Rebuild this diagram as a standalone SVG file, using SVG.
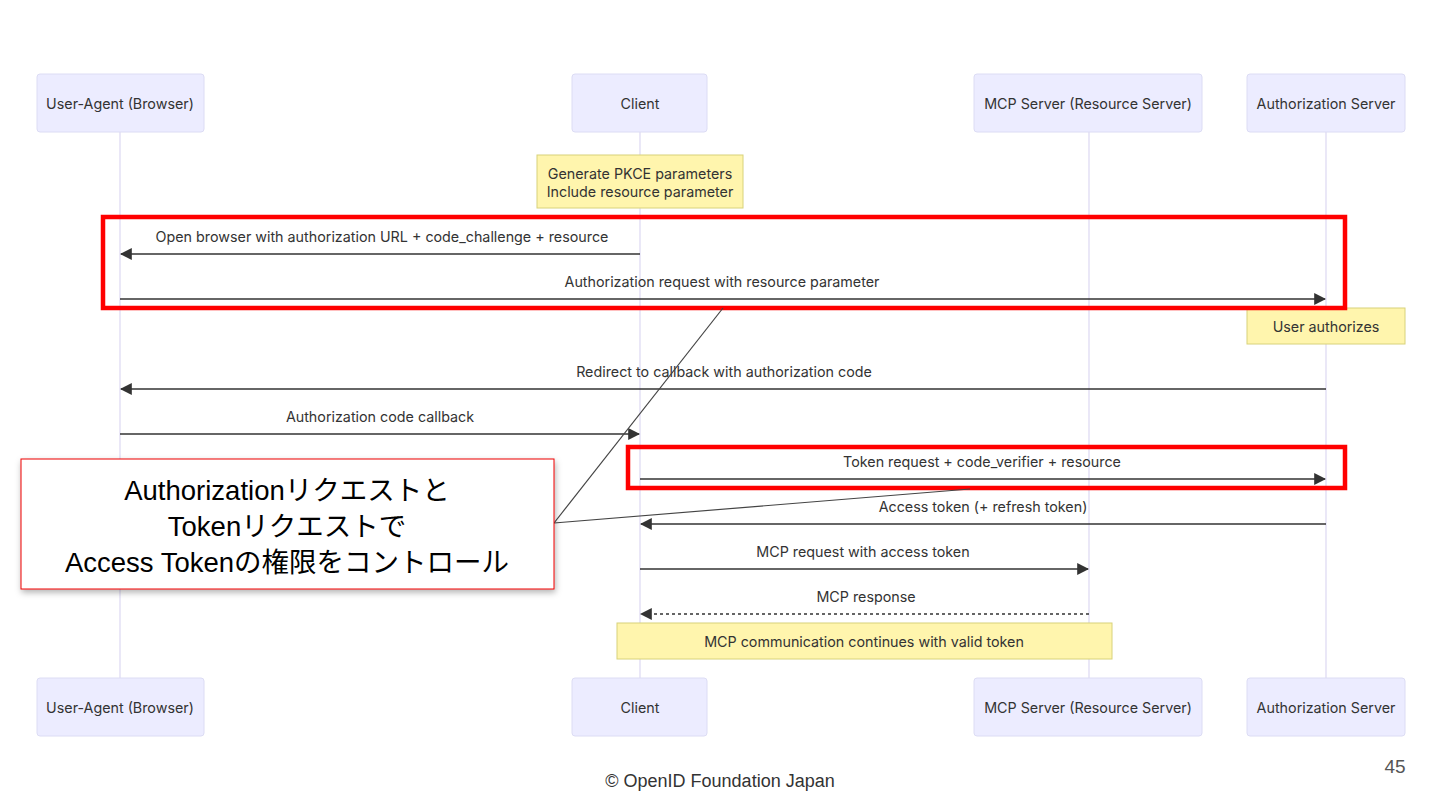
<svg xmlns="http://www.w3.org/2000/svg" width="1440" height="810" viewBox="0 0 1440 810">
<defs>
<marker id="ah" viewBox="0 0 10 10" refX="9" refY="5" markerWidth="12" markerHeight="12" markerUnits="userSpaceOnUse" orient="auto-start-reverse">
<path d="M0,0 L10,5 L0,10 z" fill="#333"/>
</marker>
<filter id="sh" x="-10%" y="-10%" width="120%" height="130%">
<feDropShadow dx="1" dy="3" stdDeviation="3" flood-color="#000" flood-opacity="0.3"/>
</filter>
<style>
.actor rect{fill:#ececff;stroke:#dcdcf4;stroke-width:1}
.actor text,.lbl{font-family:Inter,"Noto Sans",sans-serif;font-size:14.3px;fill:#333;text-anchor:middle;dominant-baseline:central}
.life{stroke:#dcd8f2;stroke-width:1.2}
.msg{stroke:#333;stroke-width:1.4;fill:none}
.dash{stroke-dasharray:3,3}
.note rect{fill:#fff5ad;stroke:#d8d27a;stroke-width:1}
.hl{fill:none;stroke:#f00;stroke-width:4.5}
.call{stroke:#444;stroke-width:1.2;fill:none}
.ctext{font-family:"Liberation Sans","Noto Sans CJK JP",sans-serif;font-size:27.5px;fill:#000;text-anchor:middle}
</style>
</defs>
<rect width="1440" height="810" fill="#fff"/>

<g id="lifelines">
<line class="life" x1="120" y1="132" x2="120" y2="678"/>
<line class="life" x1="640" y1="132" x2="640" y2="678"/>
<line class="life" x1="1089" y1="132" x2="1089" y2="678"/>
<line class="life" x1="1326" y1="132" x2="1326" y2="678"/>
</g>

<g id="actor-ua-top" class="actor"><rect x="37" y="74" width="167" height="58" rx="3"/><text x="120" y="103">User-Agent (Browser)</text></g>
<g id="actor-client-top" class="actor"><rect x="572" y="74" width="135" height="58" rx="3"/><text x="640" y="103">Client</text></g>
<g id="actor-mcp-top" class="actor"><rect x="974" y="74" width="228" height="58" rx="3"/><text x="1088" y="103">MCP Server (Resource Server)</text></g>
<g id="actor-as-top" class="actor"><rect x="1247" y="74" width="158" height="58" rx="3"/><text x="1326" y="103">Authorization Server</text></g>

<g id="actor-ua-bottom" class="actor"><rect x="37" y="678" width="167" height="58" rx="3"/><text x="120" y="707">User-Agent (Browser)</text></g>
<g id="actor-client-bottom" class="actor"><rect x="572" y="678" width="135" height="58" rx="3"/><text x="640" y="707">Client</text></g>
<g id="actor-mcp-bottom" class="actor"><rect x="974" y="678" width="228" height="58" rx="3"/><text x="1088" y="707">MCP Server (Resource Server)</text></g>
<g id="actor-as-bottom" class="actor"><rect x="1247" y="678" width="158" height="58" rx="3"/><text x="1326" y="707">Authorization Server</text></g>

<g id="note-pkce" class="note"><rect x="537" y="155" width="206" height="53"/><text class="lbl" x="640" y="173">Generate PKCE parameters</text><text class="lbl" x="640" y="191">Include resource parameter</text></g>
<g id="note-user" class="note"><rect x="1247" y="308" width="158" height="36"/><text class="lbl" x="1326" y="326">User authorizes</text></g>
<g id="note-mcp" class="note"><rect x="617" y="623" width="495" height="36"/><text class="lbl" x="864" y="641">MCP communication continues with valid token</text></g>

<g id="connectors">
<line class="msg" x1="640" y1="254" x2="121" y2="254" marker-end="url(#ah)"/>
<text class="lbl" x="382" y="236">Open browser with authorization URL + code_challenge + resource</text>
<line class="msg" x1="120" y1="299" x2="1325" y2="299" marker-end="url(#ah)"/>
<text class="lbl" x="722" y="281">Authorization request with resource parameter</text>
<line class="msg" x1="1326" y1="389" x2="121" y2="389" marker-end="url(#ah)"/>
<text class="lbl" x="724" y="371">Redirect to callback with authorization code</text>
<line class="msg" x1="120" y1="434" x2="639" y2="434" marker-end="url(#ah)"/>
<text class="lbl" x="380" y="416">Authorization code callback</text>
<line class="msg" x1="640" y1="479" x2="1325" y2="479" marker-end="url(#ah)"/>
<text class="lbl" x="982" y="461">Token request + code_verifier + resource</text>
<line class="msg" x1="1326" y1="524" x2="641" y2="524" marker-end="url(#ah)"/>
<text class="lbl" x="983" y="506">Access token (+ refresh token)</text>
<line class="msg" x1="640" y1="569" x2="1088" y2="569" marker-end="url(#ah)"/>
<text class="lbl" x="863" y="551">MCP request with access token</text>
<line class="msg dash" x1="1089" y1="614" x2="641" y2="614" marker-end="url(#ah)"/>
<text class="lbl" x="866" y="596">MCP response</text>
</g>

<g id="highlight-auth"><rect class="hl" x="103" y="217" width="1242" height="91"/></g>
<g id="highlight-token"><rect class="hl" x="628" y="447" width="717" height="41"/></g>

<g id="callout-lines">
<line class="call" x1="554" y1="523" x2="723" y2="308"/>
<line class="call" x1="554" y1="523" x2="970" y2="489"/>
</g>

<g id="callout">
<rect x="21" y="459" width="533" height="130" fill="#fff" stroke="#e00" stroke-width="1" filter="url(#sh)"/>
<text class="ctext" x="287" y="500">Authorizationリクエストと</text>
<text class="ctext" x="287" y="536">Tokenリクエストで</text>
<text class="ctext" x="287" y="572">Access Tokenの権限をコントロール</text>
</g>

<g id="footer">
<text x="720" y="787" font-family="'Liberation Sans',sans-serif" font-size="18" fill="#333" text-anchor="middle">© OpenID Foundation Japan</text>
<text x="1395" y="773" font-family="'Liberation Sans',sans-serif" font-size="19" fill="#555" text-anchor="middle">45</text>
</g>
</svg>
